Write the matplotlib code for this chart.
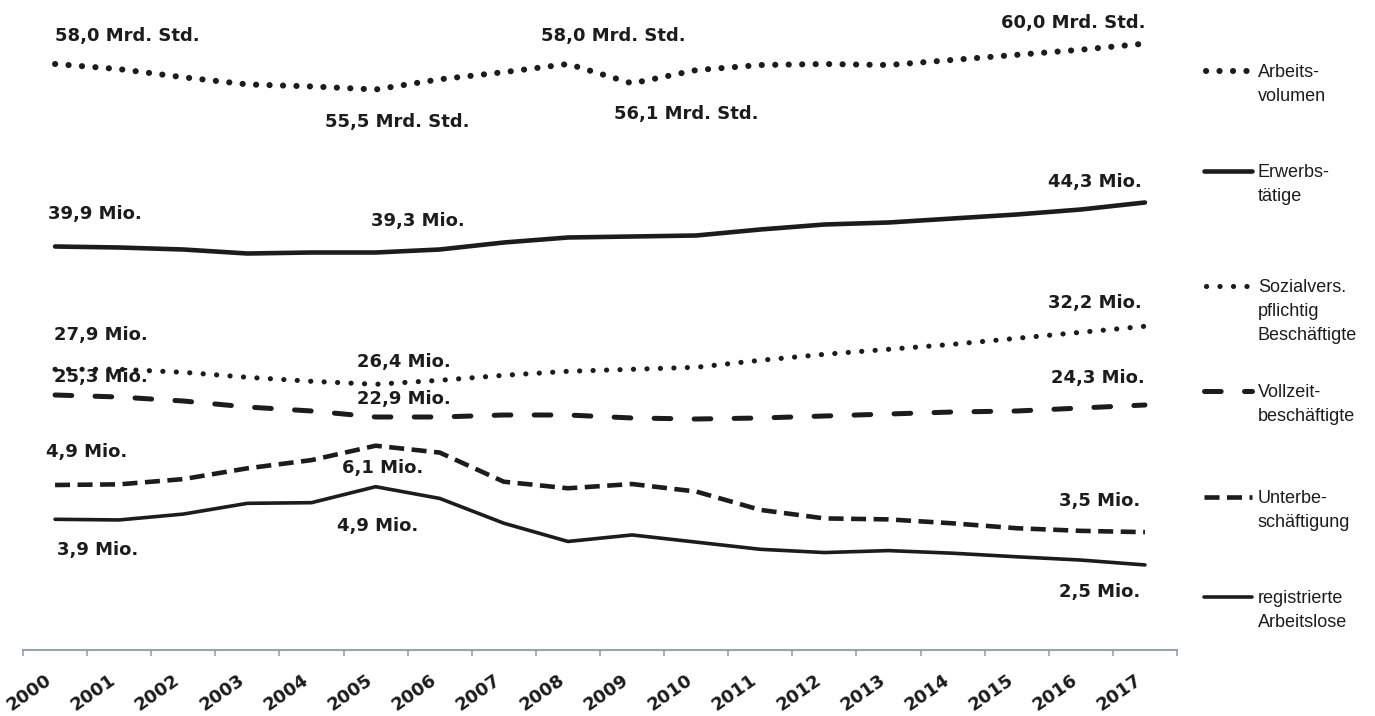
import matplotlib
matplotlib.use("Agg")
import matplotlib.pyplot as plt

plt.rcParams["lines.scale_dashes"] = False

# --- data ---
years = [str(y) for y in range(2000, 2018)]
arbeitsvolumen = [58.0, 57.5, 56.7, 56.0, 55.8, 55.5, 56.5, 57.2, 58.0, 56.1,
                  57.4, 57.9, 58.0, 57.9, 58.4, 58.9, 59.4, 60.0]  # Mrd. Std.
erwerbstaetige = [39.9, 39.8, 39.6, 39.2, 39.3, 39.3, 39.6, 40.3, 40.8, 40.9,
                  41.0, 41.6, 42.1, 42.3, 42.7, 43.1, 43.6, 44.3]
sozialvers = [27.9, 27.9, 27.6, 27.1, 26.7, 26.4, 26.8, 27.3, 27.7, 27.9,
              28.1, 28.8, 29.4, 29.9, 30.4, 31.0, 31.6, 32.2]
vollzeit = [25.3, 25.1, 24.7, 24.1, 23.7, 23.1, 23.1, 23.3, 23.3, 23.0,
            22.9, 23.0, 23.2, 23.4, 23.6, 23.7, 24.0, 24.3]
unterbeschaeftigung = [4.9, 4.92, 5.08, 5.41, 5.66, 6.1, 5.89, 5.0, 4.8, 4.93,
                       4.7, 4.14, 3.88, 3.85, 3.73, 3.58, 3.5, 3.46]
arbeitslose = [3.9, 3.88, 4.06, 4.39, 4.41, 4.9, 4.54, 3.78, 3.22, 3.42,
               3.2, 2.98, 2.88, 2.94, 2.86, 2.75, 2.65, 2.5]

legend_labels = ["Arbeits-\nvolumen", "Erwerbs-\ntätige",
                 "Sozialvers.\npflichtig\nBeschäftigte", "Vollzeit-\nbeschäftigte",
                 "Unterbe-\nschäftigung", "registrierte\nArbeitslose"]

INK = "#1c1c1c"
AXIS_GREY = "#9aa3aa"
W, H = 1375, 716
AX_TOP, AX_BOTTOM, AX_LEFT, AX_RIGHT = 0, 650, 23, 1177

# linestyles
dots_big = dict(lw=4.4, ls=(0, (0.1, 9.6)), dash_capstyle="round")
dots_small = dict(lw=3.7, ls=(0, (0.1, 9.6)), dash_capstyle="round")
solid_thick = dict(lw=3.3, ls="-", solid_capstyle="round")
long_dash = dict(lw=3.6, ls=(0, (12.0, 16.8)), dash_capstyle="round")
short_dash = dict(lw=3.3, ls=(0, (10.8, 5.4)), dash_capstyle="butt")
solid_thin = dict(lw=2.6, ls="-", solid_capstyle="round")

fig = plt.figure(figsize=(13.75, 7.16), dpi=100)
ax = fig.add_axes([AX_LEFT / W, 1 - AX_BOTTOM / H,
                   (AX_RIGHT - AX_LEFT) / W, (AX_BOTTOM - AX_TOP) / H])
x = list(range(len(years)))
ax.set_xlim(-0.5, len(years) - 0.5)
ax.set_yticks([])
for s in ["top", "left", "right"]:
    ax.spines[s].set_visible(False)
ax.spines["bottom"].set_color(AXIS_GREY)
ax.spines["bottom"].set_linewidth(1.5)
ax.set_xticks(x)
ax.set_xticklabels(years, rotation=35, ha="right", va="top",
                   fontsize=13, fontweight="bold", color=INK)
ax.tick_params(axis="x", which="major", length=0, pad=15)
ax.set_xticks([i - 0.5 for i in range(len(years) + 1)], minor=True)
ax.tick_params(axis="x", which="minor", length=4.3, width=1.2, color=AXIS_GREY)


def series_axis(v_ref, y_px, px_per_unit):
    """eigene y-Skala pro Reihe (kein gemeinsamer Maßstab im Original)"""
    a = ax.twinx()
    a.set_ylim(v_ref - (AX_BOTTOM - y_px) / px_per_unit,
               v_ref + (y_px - AX_TOP) / px_per_unit)
    a.axis("off")
    return a


# (values, scale anchor, style, labels: (index, text, dx, dy, ha))
series = [
    (arbeitsvolumen, (58.0, 64, 10.2), dots_big,
     [(0, "58,0 Mrd. Std.", 0, 28, "left"), (5, "55,5 Mrd. Std.", 22, -33, "center"),
      (8, "58,0 Mrd. Std.", 45, 28, "center"), (9, "56,1 Mrd. Std.", 54, -31, "center"),
      (17, "60,0 Mrd. Std.", 1, 21, "right")]),
    (erwerbstaetige, (39.9, 246.5, 10.0), solid_thick,
     [(0, "39,9 Mio.", -7, 32, "left"), (5, "39,3 Mio.", 42, 31, "center"),
      (17, "44,3 Mio.", -3, 20, "right")]),
    (sozialvers, (27.9, 369.3, 10.0), dots_small,
     [(0, "27,9 Mio.", -1, 34, "left"), (5, "26,4 Mio.", 28, 22, "center"),
      (17, "32,2 Mio.", -3, 23, "right")]),
    (vollzeit, (25.3, 395, 10.0), long_dash,
     [(0, "25,3 Mio.", -1, 18, "left"), (5, "22,9 Mio.", 28, 18, "center"),
      (17, "24,3 Mio.", 0, 27, "right")]),
    (unterbeschaeftigung, (4.9, 485, 32.75), short_dash,
     [(0, "4,9 Mio.", -9, 33, "left"), (5, "6,1 Mio.", 7, -22, "center"),
      (17, "3,5 Mio.", -5, 31, "right")]),
    (arbeitslose, (3.9, 519.3, 32.6), solid_thin,
     [(0, "3,9 Mio.", 2, -31, "left"), (5, "4,9 Mio.", 2, -39, "center"),
      (17, "2,5 Mio.", -5, -27, "right")]),
]

for values, (v_ref, y_px, scale), style, labels in series:
    sa = series_axis(v_ref, y_px, scale)
    sa.plot(x, values, color=INK, clip_on=False, **style)
    for i, txt, dx, dy, ha in labels:
        sa.annotate(txt, xy=(i, values[i]), xytext=(dx, dy), textcoords="offset pixels",
                    ha=ha, va="center", fontsize=13, fontweight="bold", color=INK)

# legend on the right, drawn by hand
lg = fig.add_axes([0, 0, 1, 1])
lg.set_xlim(0, W)
lg.set_ylim(H, 0)
lg.axis("off")
lg.patch.set_alpha(0)

legend_rows = [71, 171, 286, 391, 497, 597]
legend_styles = [dots_big, solid_thick, dots_small, long_dash, short_dash, solid_thin]
for label, y, style in zip(legend_labels, legend_rows, legend_styles):
    if style in (dots_big, dots_small):
        lg.plot([1206, 1248], [y, y], color=INK, **style)
    else:
        lg.plot([1204, 1252], [y, y], color=INK, **style)
    for k, line in enumerate(label.split("\n")):
        lg.text(1258, y + 6 + 24 * k, line, ha="left", va="baseline",
                fontsize=13, color=INK, family=["Liberation Sans", "DejaVu Sans"])

fig.savefig("out.png", dpi=100)
